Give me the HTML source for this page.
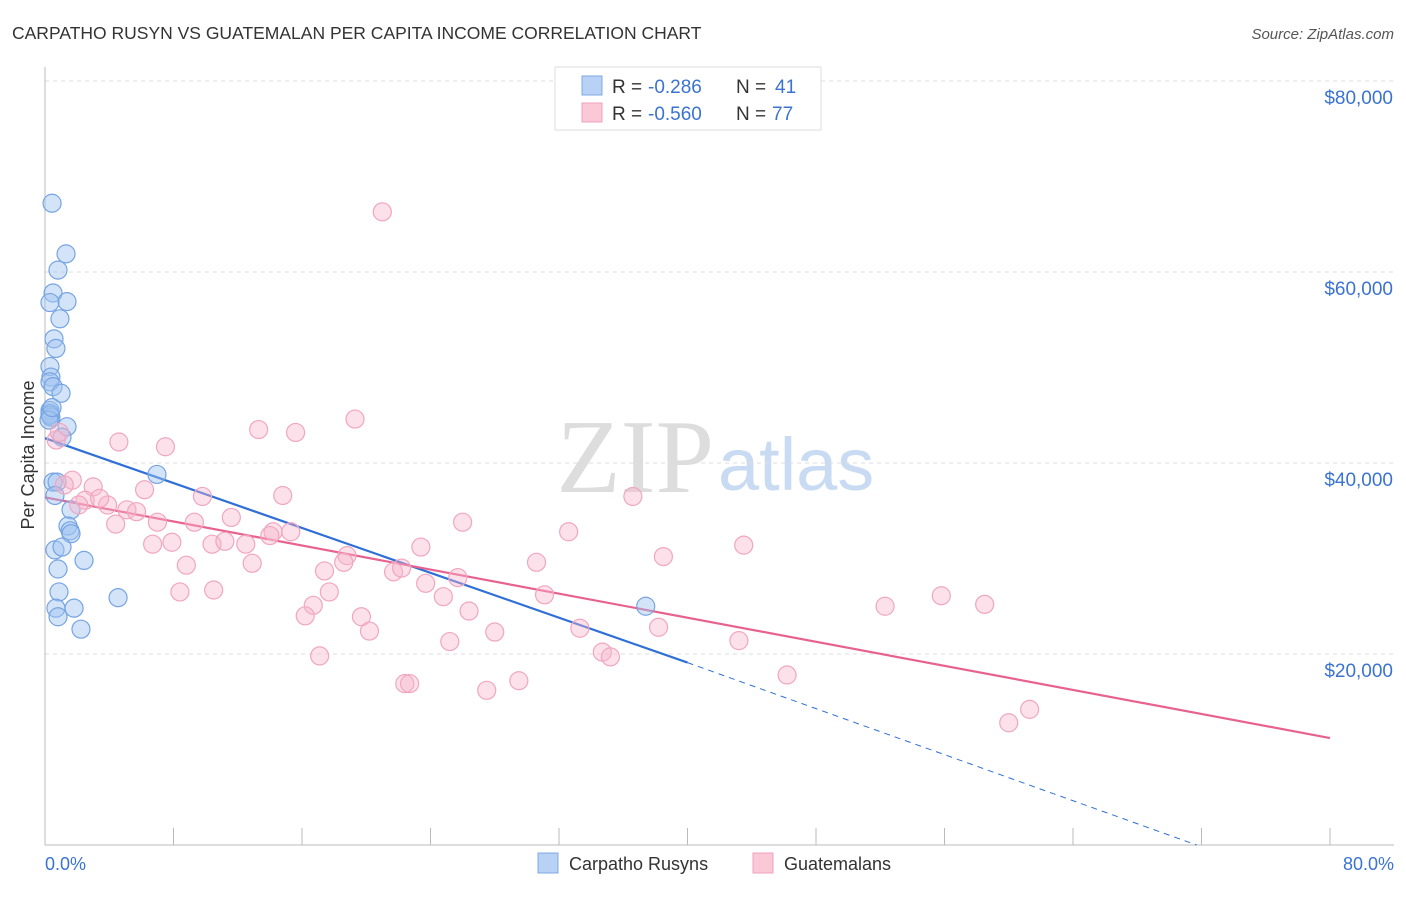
<!DOCTYPE html>
<html><head><meta charset="utf-8"><style>
body{margin:0;background:#fff;font-family:"Liberation Sans",sans-serif}
</style></head><body>
<svg id="chart" width="1406" height="892" xmlns="http://www.w3.org/2000/svg">
<text x="12" y="39" font-size="17.5" fill="#333">CARPATHO RUSYN VS GUATEMALAN PER CAPITA INCOME CORRELATION CHART</text>
<text x="1394" y="39" font-size="15" fill="#555" font-style="italic" text-anchor="end">Source: ZipAtlas.com</text>
<text x="714" y="492" font-size="105" fill="#ddd" font-family="Liberation Serif,serif" text-anchor="end">ZIP</text>
<text x="718" y="490" font-size="74" fill="#c9daf3" text-anchor="start">atlas</text>
<g id="grid"></g><g id="axes"></g><g id="trends"></g><g id="pts"></g>
<text transform="translate(34,455) rotate(-90)" font-size="18" fill="#333" text-anchor="middle">Per Capita Income</text>
<text x="45" y="870" font-size="18" fill="#3b73d1">0.0%</text>
<text x="1394" y="870" font-size="18" fill="#3b73d1" text-anchor="end">80.0%</text>
<g>
<rect x="555" y="67" width="266" height="63" fill="#fff" stroke="#ddd"/>
<rect x="582" y="76" width="20" height="19" fill="#b8d2f5" stroke="#7fa8e3"/>
<rect x="582" y="103" width="20" height="19" fill="#fbc8d7" stroke="#f0a0bc"/>
<text x="612" y="93" font-size="19" fill="#333">R =</text>
<text x="648" y="93" font-size="19" fill="#3b73d1">-0.286</text>
<text x="736" y="93" font-size="19" fill="#333">N =</text>
<text x="775" y="93" font-size="19" fill="#3b73d1">41</text>
<text x="612" y="120" font-size="19" fill="#333">R =</text>
<text x="648" y="120" font-size="19" fill="#3b73d1">-0.560</text>
<text x="736" y="120" font-size="19" fill="#333">N =</text>
<text x="772" y="120" font-size="19" fill="#3b73d1">77</text>
</g>
<g>
<rect x="538" y="853" width="20" height="20" fill="#b8d2f5" stroke="#7fa8e3"/>
<text x="569" y="870" font-size="18" fill="#333">Carpatho Rusyns</text>
<rect x="753" y="853" width="20" height="20" fill="#fbc8d7" stroke="#f0a0bc"/>
<text x="784" y="870" font-size="18" fill="#333">Guatemalans</text>
</g>
</svg>
<script>
const yTicks=[20000,40000,60000,80000];
const yTickLabels=["$20,000","$40,000","$60,000","$80,000"];
const xTicks=[0,8,16,24,32,40,48,56,64,72,80];
const blueX=[0.44,1.31,0.81,0.50,1.37,0.31,0.93,0.56,0.68,0.31,0.37,0.31,0.50,1.0,0.31,0.31,0.37,1.37,1.06,6.97,0.50,0.75,0.62,1.62,1.43,1.56,1.62,0.62,1.06,2.43,0.81,0.87,4.55,0.68,1.81,0.81,2.24,37.4,0.31,0.25,0.44];
const blueY=[67.2,61.9,60.2,57.8,56.9,56.8,55.1,53.0,52.0,50.1,49.0,48.5,48.0,47.3,45.5,45.2,44.8,43.8,42.7,38.8,38.0,38.0,36.6,35.1,33.4,32.9,32.6,30.9,31.2,29.8,28.9,26.5,25.9,24.8,24.8,23.9,22.6,25.0,45.0,44.5,45.8];
const pinkX=[21.0,19.3,13.3,15.6,4.6,7.5,0.7,0.9,36.6,14.8,9.8,1.7,3.0,1.2,2.5,2.1,3.9,5.1,5.7,6.2,4.4,7.0,9.3,11.6,14.2,15.3,14.0,10.4,11.2,12.5,6.7,7.9,23.4,26.0,32.6,43.5,38.5,18.8,18.6,12.9,8.8,17.4,21.7,22.2,23.7,25.7,30.6,8.4,10.5,17.7,24.8,31.1,16.7,16.2,19.7,26.4,52.3,55.8,58.5,20.2,28.0,33.3,38.2,25.2,43.2,34.7,35.2,17.1,46.2,22.4,22.7,29.5,27.5,61.3,60.0,3.4];
const pinkY=[66.3,44.6,43.5,43.2,42.2,41.7,42.4,43.2,36.5,36.6,36.5,38.2,37.5,37.7,36.1,35.6,35.6,35.1,34.9,37.2,33.6,33.8,33.8,34.3,32.8,32.8,32.4,31.5,31.8,31.5,31.5,31.7,31.2,33.8,32.8,31.4,30.2,30.3,29.6,29.5,29.3,28.7,28.6,29.0,27.4,28.0,29.6,26.5,26.7,26.5,26.0,26.2,25.1,24.0,23.9,24.5,25.0,26.1,25.2,22.4,22.3,22.7,22.8,21.3,21.4,20.2,19.7,19.8,17.8,16.9,16.9,17.2,16.2,14.2,12.8,36.3];
const blueTrend=[0,42.6,40,19.1,71.7,0];
const pinkTrend=[0,36.4,80,11.2];
const NS="http://www.w3.org/2000/svg";
const sx=v=>45+v/80*1285;
const sy=v=>845-v*1000/20000*191;
function mk(tag,parent,attrs){const e=document.createElementNS(NS,tag);for(const k in attrs)e.setAttribute(k,attrs[k]);document.getElementById(parent).appendChild(e);return e;}
yTicks.forEach((t,i)=>{
 const y=sy(t/1000);
 const l=mk('line','grid',{x1:45,x2:1394,y1:y,y2:y,stroke:'#ddd','stroke-dasharray':'4,4'});
 
 
 const tx=mk('text','grid',{x:1393,y:y+23,'font-size':19,fill:'#3b73d1','text-anchor':'end'});
 tx.textContent=yTickLabels[i];
 
 
});
const ax=mk('line','axes',{x1:45,x2:1394,y1:845,y2:845,stroke:'#bbb'});


const ay=mk('line','axes',{x1:45,x2:45,y1:67,y2:845,stroke:'#bbb'});


xTicks.forEach(t=>{
 const tk=mk('line','axes',{x1:sx(t),x2:sx(t),y1:828,y2:845,stroke:'#bbb'});
 
 
});
blueX.forEach((x,i)=>{
 const c=mk('circle','pts',{cx:sx(x),cy:sy(blueY[i]),r:9,fill:'rgba(160,196,240,0.45)',stroke:'#76a4e2','stroke-width':1.2});
 
 
});
pinkX.forEach((x,i)=>{
 const c=mk('circle','pts',{cx:sx(x),cy:sy(pinkY[i]),r:9,fill:'rgba(248,180,203,0.4)',stroke:'#f0a6c0','stroke-width':1.2});
 
 
});
const b1=mk('line','trends',{x1:sx(blueTrend[0]),y1:sy(blueTrend[1]),x2:sx(blueTrend[2]),y2:sy(blueTrend[3]),stroke:'#2f6fd6','stroke-width':2.2});


const b2=mk('line','trends',{x1:sx(blueTrend[2]),y1:sy(blueTrend[3]),x2:sx(blueTrend[4]),y2:sy(blueTrend[5]),stroke:'#2f6fd6','stroke-width':1,'stroke-dasharray':'6,5'});


const p1=mk('line','trends',{x1:sx(pinkTrend[0]),y1:sy(pinkTrend[1]),x2:sx(pinkTrend[2]),y2:sy(pinkTrend[3]),stroke:'#e8628f','stroke-width':2.2});


</script>
</body></html>
